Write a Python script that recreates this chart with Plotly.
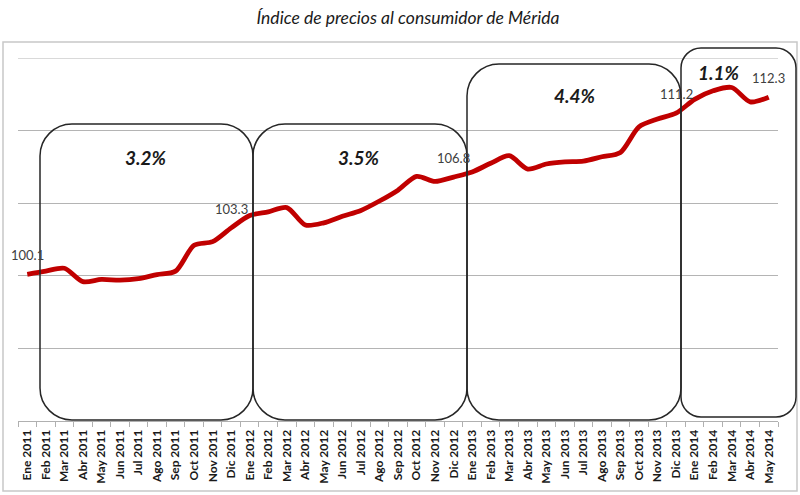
import plotly.graph_objects as go

months = ["Ene", "Feb", "Mar", "Abr", "May", "Jun", "Jul", "Ago", "Sep", "Oct", "Nov", "Dic"]
years = [2011, 2012, 2013, 2014]
categories = [f"{m} {y}" for y in years for m in months][:41]

values = [100.1, 100.32, 100.52, 99.6, 99.75, 99.7, 99.8, 100.08, 100.32, 102.1, 102.35, 103.3,
          104.15, 104.4, 104.7, 103.5, 103.65, 104.1, 104.5, 105.15, 105.9, 106.85, 106.5, 106.8,
          107.15, 107.75, 108.27, 107.35, 107.7, 107.85, 107.9, 108.2, 108.5, 110.26, 110.8, 111.2,
          112.15, 112.74, 112.97, 111.98, 112.3]

label_cats = ["Ene 2011", "Dic 2011", "Dic 2012", "Dic 2013", "May 2014"]
label_texts = ["100.1", "103.3", "106.8", "111.2", "112.3"]

pct_texts = ["3.2%", "3.5%", "4.4%", "1.1%"]

y_min, y_max, y_step = 90, 115, 5

W, H = 800, 495
L, R, T, B = 18, 22, 58, 74
PX0, PX1, PY0, PY1 = L, W - R, T, H - B


def fx(px):
    return (px - PX0) / (PX1 - PX0)


def fy(py):
    return (PY1 - py) / (PY1 - PY0)


def rounded(x0, x1, top, bot, r):
    k = 0.5523 * r

    def P(x, y):
        return f"{fx(x):.5f},{fy(y):.5f}"
    d = (f"M {P(x0 + r, top)} L {P(x1 - r, top)} "
         f"C {P(x1 - r + k, top)} {P(x1, top + r - k)} {P(x1, top + r)} "
         f"L {P(x1, bot - r)} "
         f"C {P(x1, bot - r + k)} {P(x1 - r + k, bot)} {P(x1 - r, bot)} "
         f"L {P(x0 + r, bot)} "
         f"C {P(x0 + r - k, bot)} {P(x0, bot - r + k)} {P(x0, bot - r)} "
         f"L {P(x0, top + r)} "
         f"C {P(x0, top + r - k)} {P(x0 + r - k, top)} {P(x0 + r, top)} Z")
    return d


fig = go.Figure()
fig.add_trace(go.Scatter(
    x=categories, y=values, mode="lines",
    line=dict(color="#C00000", width=4.8, shape="spline", smoothing=0.8),
    hoverinfo="skip", showlegend=False,
))

lab_y = [values[categories.index(c)] for c in label_cats]
annotations = []
for c, v, t in zip(label_cats, lab_y, label_texts):
    annotations.append(dict(x=c, y=v, text=t, showarrow=False, yshift=19,
                            font=dict(family="Lato", size=13, color="#404040")))

boxes = [(40, 253, 124, 420, 32), (253, 467, 124, 420, 32),
         (467, 681, 64, 420, 32), (681, 796, 48, 417, 20)]
pct_pos = [(146, 157), (359, 157), (575, 95), (719, 73)]
for t, (px, py) in zip(pct_texts, pct_pos):
    annotations.append(dict(xref="paper", yref="paper", x=fx(px), y=fy(py), text=f"<b><i>{t}</i></b>",
                            showarrow=False, xanchor="center", yanchor="middle",
                            font=dict(family="Lato", size=19, color="#1a1a1a")))

shapes = [dict(type="rect", xref="paper", yref="paper", x0=fx(3), x1=fx(797), y0=fy(42), y1=fy(491),
               line=dict(color="#c8c8c8", width=1.5), layer="below"),
          dict(type="line", xref="paper", yref="y", x0=0, x1=1, y0=y_max, y1=y_max,
               line=dict(color="#b4b4b4", width=1), layer="below")]
for (x0, x1, top, bot, r) in boxes:
    shapes.append(dict(type="path", xref="paper", yref="paper", path=rounded(x0, x1, top, bot, r),
                       line=dict(color="#262626", width=1.5)))

fig.update_layout(
    width=W, height=H,
    margin=dict(l=L, r=R, t=T, b=B, autoexpand=False),
    paper_bgcolor="white", plot_bgcolor="white",
    title=dict(text="<i>Índice de precios al consumidor de Mérida</i>", x=408 / W, xanchor="center",
               y=1 - 18 / H, yanchor="middle",
               font=dict(family="Lato", size=17.5, color="#1a1a1a")),
    xaxis=dict(type="category", range=[-0.5, 40.5], tickson="boundaries", ticks="outside", ticklen=5,
               tickcolor="#b0b0b0", showline=True, linecolor="#b0b0b0", linewidth=1,
               showgrid=False, tickangle=-90, automargin=False, ticklabelstandoff=3,
               tickfont=dict(family="Lato", size=12, color="#1a1a1a", weight="bold")),
    yaxis=dict(range=[y_min, y_max], tick0=y_min, dtick=y_step, showticklabels=False, showgrid=True,
               gridcolor="#b4b4b4", gridwidth=1, zeroline=False, showline=False),
    annotations=annotations,
    shapes=shapes,
)

fig.write_html("out.html", config={"displayModeBar": False},
               post_script="document.body.style.margin='0';document.body.style.padding='0';")
